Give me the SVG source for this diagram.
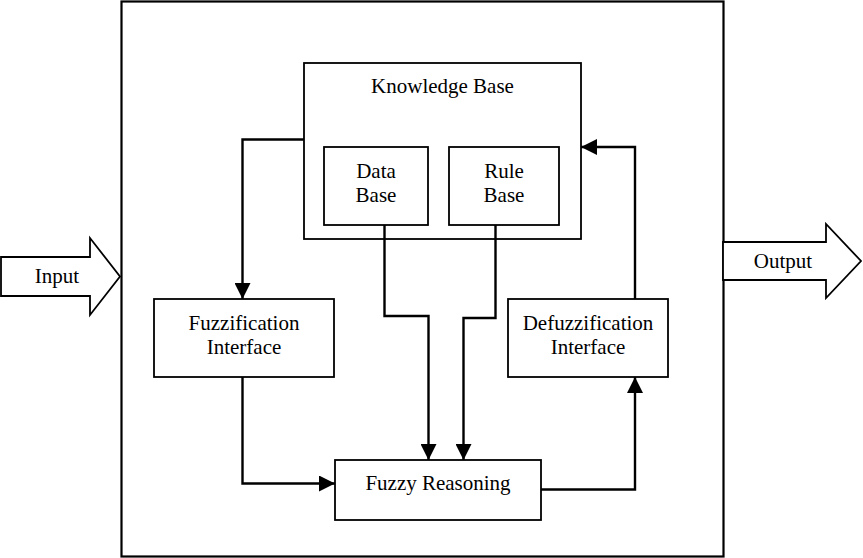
<svg xmlns="http://www.w3.org/2000/svg" width="863" height="558" viewBox="0 0 863 558">
<style>
.box{fill:#fff;stroke:#000;stroke-width:1.8}
.big{fill:#fff;stroke:#000;stroke-width:2.2}
.t{font-family:"Liberation Serif","Times New Roman",serif;font-size:21px;fill:#000;text-anchor:middle}
.c{fill:none;stroke:#000;stroke-width:2.4}
</style>
<defs>
<marker id="ah" markerWidth="16" markerHeight="16" viewBox="0 0 16 16" refX="16" refY="8" orient="auto" markerUnits="userSpaceOnUse">
<path d="M0,0 L16,8 L0,16 Z" fill="#000"/>
</marker>
</defs>
<rect id="outer" class="big" x="121.5" y="1.5" width="602" height="555"/>
<g id="input">
<polygon class="box" points="1,257 90,257 90,238 120,276.5 90,315 90,296 1,296"/>
<text class="t" x="57" y="283">Input</text>
</g>
<g id="output">
<polygon class="box" points="723,242 826,242 826,224 861,261 826,298 826,280 723,280"/>
<text class="t" x="783" y="268">Output</text>
</g>
<g id="knowledge-base">
<rect class="box" x="304" y="63" width="277" height="176"/>
<text class="t" x="442.5" y="93">Knowledge Base</text>
</g>
<g id="data-base">
<rect class="box" x="324" y="147" width="104" height="78"/>
<text class="t" x="376" y="178">Data</text>
<text class="t" x="376" y="202">Base</text>
</g>
<g id="rule-base">
<rect class="box" x="449" y="147" width="110" height="78"/>
<text class="t" x="504" y="178">Rule</text>
<text class="t" x="504" y="202">Base</text>
</g>
<g id="fuzzification">
<rect class="box" x="154" y="299" width="180" height="78"/>
<text class="t" x="244" y="330">Fuzzification</text>
<text class="t" x="244" y="354">Interface</text>
</g>
<g id="defuzzification">
<rect class="box" x="508" y="299" width="160" height="78"/>
<text class="t" x="588" y="330">Defuzzification</text>
<text class="t" x="588" y="354">Interface</text>
</g>
<g id="fuzzy-reasoning">
<rect class="box" x="335" y="460" width="206" height="60"/>
<text class="t" x="438" y="490">Fuzzy Reasoning</text>
</g>
<g id="connectors">
<polyline class="c" points="304,139.5 242.5,139.5 242.5,299" marker-end="url(#ah)"/>
<polyline class="c" points="242.5,377 242.5,483.5 335,483.5" marker-end="url(#ah)"/>
<polyline class="c" points="384.5,225 384.5,316 428.5,316 428.5,460" marker-end="url(#ah)"/>
<polyline class="c" points="495.5,225 495.5,318 463.5,318 463.5,460" marker-end="url(#ah)"/>
<polyline class="c" points="541,489.5 635,489.5 635,377" marker-end="url(#ah)"/>
<polyline class="c" points="635,299 635,147 581,147" marker-end="url(#ah)"/>
</g>
</svg>
